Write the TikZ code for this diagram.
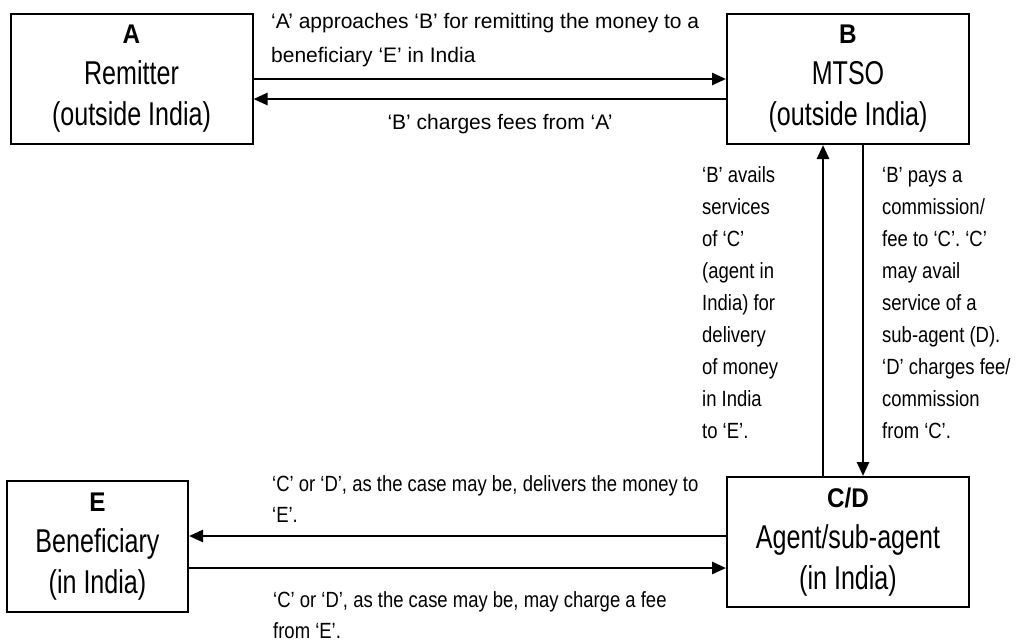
\documentclass[tikz,border=0pt]{standalone}
\usepackage{fontspec}
\setmainfont{Liberation Sans}
\newfontfamily\boxfont{Liberation Sans}[FakeStretch=0.76]
\newfontfamily\narrowfont{Liberation Sans}[FakeStretch=0.84]
\usetikzlibrary{arrows.meta}

\tikzset{
  party/.style={draw,line width=2pt,minimum width=242pt,minimum height=130pt,
    inner sep=0pt,align=center,font=\boxfont\fontsize{33}{41}\selectfont},
  flow/.style={-{Triangle[length=14pt,width=12pt]},line width=2.6pt},
  toplabel/.style={anchor=base west,align=left,inner sep=0pt,
    font=\fontsize{21}{34}\selectfont},
  sidelabel/.style={anchor=base west,align=left,inner sep=0pt,
    font=\narrowfont\fontsize{22}{32}\selectfont}
}
\newcommand{\partyname}[1]{{\fontspec{Liberation Sans}[FakeStretch=0.9]\fontsize{27}{27}\selectfont\bfseries #1}}

\begin{document}
\begin{tikzpicture}[x=1pt,y=-1pt]
  \useasboundingbox (0,0) rectangle (1016,641);
  % the four parties
  \node[party](a)at(131.5,79){\partyname{A}\\Remitter\\(outside India)};
  \node[party](b)at(848,79){\partyname{B}\\MTSO\\(outside India)};
  \node[party](c)at(848,542){\partyname{C/D}\\Agent/sub-agent\\(in India)};
  \node[party,minimum width=181pt,minimum height=131pt](e)at(97.5,546.5){\partyname{E}\\Beneficiary\\(in India)};
  % A and B
  \draw[flow](a.east)--(b.west);
  \coordinate (ba) at ([yshift=-20pt]b.west);
  \draw[flow](ba)--(ba-|a.east);
  \node[toplabel](ab text)at(271,62){‘A’ approaches ‘B’ for remitting the money to a\\beneficiary ‘E’ in India};
  \node[toplabel,anchor=base](ba text)at(500,129){‘B’ charges fees from ‘A’};
  % B and C/D
  \draw[flow]([xshift=-25pt]c.north)--([xshift=-25pt]b.south);
  \draw[flow]([xshift=15pt]b.south)--([xshift=15pt]c.north);
  \node[sidelabel](cb text)at(702,438){‘B’ avails\\services\\of ‘C’\\(agent in\\India) for\\delivery\\of money\\in India\\to ‘E’.};
  \node[sidelabel](bc text)at(882,438){‘B’ pays a\\commission/\\fee to ‘C’. ‘C’\\may avail\\service of a\\sub-agent (D).\\‘D’ charges fee/\\commission\\from ‘C’.};
  % C/D and E
  \coordinate (ce) at ([yshift=6pt]c.west);
  \coordinate (ec) at ([yshift=-26pt]c.west);
  \draw[flow](ce)--(ce-|e.east);
  \draw[flow](ec-|e.east)--(ec);
  \node[sidelabel,font=\narrowfont\fontsize{22}{31}\selectfont](ce text)at(272,522){‘C’ or ‘D’, as the case may be, delivers the money to\\‘E’.};
  \node[sidelabel,font=\narrowfont\fontsize{22}{31}\selectfont](ec text)at(273,638){‘C’ or ‘D’, as the case may be, may charge a fee\\from ‘E’.};
\end{tikzpicture}
\end{document}
